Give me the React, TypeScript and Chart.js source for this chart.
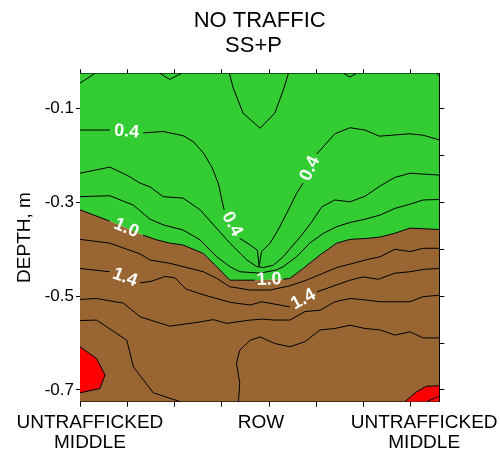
import { useEffect, useRef } from 'react';
import { Chart, registerables } from 'chart.js';

Chart.register(...registerables);

type P = [number, number];

const FAMILY = '"Liberation Sans", Arial, Helvetica, sans-serif';

// ---- text ----
const TITLE = ['NO TRAFFIC', 'SS+P  '];
const Y_TITLE = 'DEPTH, m';
const X_CATEGORY_LABELS: string[][] = [['UNTRAFFICKED', 'MIDDLE'], ['ROW'], ['UNTRAFFICKED', 'MIDDLE']];
const X_CATEGORY_POS = [0.21, 3.83, 7.28];

// ---- axes ----
const X_MIN = 0;
const X_MAX = 7.6;
const Y_MIN = -0.725;
const Y_MAX = -0.025;
const X_TICKS = [0, 1, 2, 3, 4, 5, 6, 7];
const Y_LABEL_TICKS = [-0.7, -0.5, -0.3, -0.1];
const Y_MINOR_TICKS = [-0.7, -0.6, -0.5, -0.4, -0.3, -0.2, -0.1];

// ---- contour lines: [x position, depth m] ----
const C02_A: P[] = [[0, -0.046], [0.32, -0.025]];
const C02_B: P[] = [[1.69, -0.025], [1.9, -0.038], [2.15, -0.025]];
const C02_C: P[] = [[3.16, -0.025], [3.24, -0.056], [3.45, -0.11], [3.81, -0.142], [4.12, -0.11], [4.3, -0.061], [4.41, -0.025]];
const C02_D: P[] = [[5.57, -0.025], [5.71, -0.033], [5.85, -0.025]];
const C02_E: P[] = [[7.54, -0.025], [7.6, -0.031]];

const C04: P[] = [
  [0, -0.146], [0.63, -0.146], [1.34, -0.152], [1.76, -0.149], [2.18, -0.158], [2.4, -0.171],
  [2.61, -0.195], [2.79, -0.225], [2.93, -0.261], [3.0, -0.295], [3.05, -0.316], [3.38, -0.377],
  [3.6, -0.391], [3.75, -0.402], [3.79, -0.436], [3.84, -0.405], [4.02, -0.387], [4.19, -0.359],
  [4.41, -0.316], [4.58, -0.281], [4.72, -0.259], [5.01, -0.197], [5.39, -0.154], [5.71, -0.141],
  [6.03, -0.146], [6.33, -0.159], [6.98, -0.154], [7.26, -0.157], [7.6, -0.167],
];

const C06: P[] = [
  [0, -0.238], [0.63, -0.225], [0.99, -0.242], [1.27, -0.259], [1.48, -0.267], [1.76, -0.288],
  [2.18, -0.291], [2.54, -0.316], [2.86, -0.352], [3.17, -0.387], [3.53, -0.423], [3.74, -0.437],
  [3.88, -0.439], [4.09, -0.434], [4.3, -0.416], [4.51, -0.391], [4.72, -0.366], [4.9, -0.342],
  [5.11, -0.31], [5.39, -0.295], [5.71, -0.299], [6.03, -0.287], [6.35, -0.265], [6.66, -0.247],
  [6.98, -0.238], [7.6, -0.242],
];

const C08: P[] = [
  [0, -0.288], [0.63, -0.286], [1.13, -0.306], [1.48, -0.336], [1.76, -0.348], [2.18, -0.359],
  [2.54, -0.38], [2.89, -0.416], [3.17, -0.437], [3.38, -0.448], [3.81, -0.451], [4.16, -0.444],
  [4.3, -0.437], [4.58, -0.416], [4.86, -0.387], [5.15, -0.366], [5.43, -0.352], [5.71, -0.343],
  [6.03, -0.336], [6.35, -0.327], [6.66, -0.313], [6.98, -0.304], [7.26, -0.295], [7.6, -0.294],
];

const C10: P[] = [
  [0, -0.316], [0.63, -0.34], [1.33, -0.37], [1.62, -0.38], [1.9, -0.387], [2.18, -0.391],
  [2.61, -0.409], [2.89, -0.437], [3.17, -0.466], [3.7, -0.466], [4.3, -0.464], [4.44, -0.462],
  [4.72, -0.441], [5.08, -0.412], [5.43, -0.387], [5.71, -0.379], [6.06, -0.377], [6.35, -0.374],
  [6.66, -0.366], [6.98, -0.355], [7.6, -0.358],
];

const C12: P[] = [
  [0, -0.379], [0.63, -0.387], [1.27, -0.41], [1.48, -0.423], [1.9, -0.43], [2.18, -0.437],
  [2.61, -0.448], [2.89, -0.462], [3.17, -0.48], [3.6, -0.487], [4.02, -0.487], [4.44, -0.478],
  [4.79, -0.466], [5.15, -0.451], [5.43, -0.439], [5.78, -0.43], [6.03, -0.423], [6.35, -0.416],
  [6.66, -0.4], [6.98, -0.405], [7.26, -0.398], [7.6, -0.398],
];

const C14: P[] = [
  [0, -0.441], [0.63, -0.448], [1.27, -0.472], [1.52, -0.468], [1.8, -0.458], [2.01, -0.461],
  [2.24, -0.485], [2.64, -0.498], [3.17, -0.513], [3.6, -0.519], [3.84, -0.512], [4.12, -0.517],
  [4.44, -0.523], [5.01, -0.491], [5.43, -0.476], [5.71, -0.466], [5.99, -0.459], [6.31, -0.464],
  [6.66, -0.451], [6.98, -0.448], [7.26, -0.443], [7.6, -0.441],
];

const C16: P[] = [
  [0, -0.507], [0.35, -0.505], [0.92, -0.515], [1.27, -0.544], [1.9, -0.564], [2.54, -0.555],
  [2.82, -0.55], [3.1, -0.558], [3.6, -0.551], [3.84, -0.549], [4.12, -0.551], [4.44, -0.551],
  [4.76, -0.533], [5.08, -0.53], [5.39, -0.512], [5.71, -0.505], [6.03, -0.508], [6.35, -0.512],
  [6.98, -0.512], [7.26, -0.501], [7.6, -0.498],
];

const C18_A: P[] = [[0, -0.552], [0.35, -0.551], [0.99, -0.594], [1.13, -0.651], [1.55, -0.706], [2.12, -0.725]];
const C18_B: P[] = [
  [3.35, -0.725], [3.38, -0.686], [3.31, -0.643], [3.38, -0.615], [3.6, -0.594], [3.81, -0.587],
  [4.12, -0.601], [4.44, -0.608], [4.76, -0.597], [5.08, -0.572], [5.39, -0.569], [5.71, -0.562],
  [6.03, -0.569], [6.35, -0.572], [6.66, -0.583], [6.98, -0.576], [7.26, -0.589], [7.6, -0.589],
];

const C20_L: P[] = [[0, -0.608], [0.35, -0.633], [0.53, -0.668], [0.42, -0.697], [0, -0.706]];
const C20_R: P[] = [[6.87, -0.725], [7.12, -0.704], [7.33, -0.692], [7.6, -0.691]];
const C22_R: P[] = [[7.33, -0.725], [7.6, -0.713]];

const LINES: Record<string, P[]> = {
  C02_A, C02_B, C02_C, C02_D, C02_E, C04, C06, C08, C10, C12, C14, C16, C18_A, C18_B, C20_L, C20_R, C22_R,
};

// contour labels sit in the gap after point index `gapAfter`
const CONTOUR_LABELS = [
  { line: 'C04', gapAfter: 1, text: '0.4' },
  { line: 'C04', gapAfter: 10, text: '0.4' },
  { line: 'C04', gapAfter: 20, text: '0.4' },
  { line: 'C10', gapAfter: 1, text: '1.0' },
  { line: 'C10', gapAfter: 9, text: '1.0' },
  { line: 'C14', gapAfter: 1, text: '1.4' },
  { line: 'C14', gapAfter: 12, text: '1.4' },
];

const GREEN = '#33CC33';
const BROWN = '#996633';
const RED = '#FF0000';

const toXY = (pts: P[]) => pts.map((p) => ({ x: p[0], y: p[1] }));

const withGaps = (name: string) => {
  const pts = LINES[name];
  const gaps = CONTOUR_LABELS.filter((l) => l.line === name).map((l) => l.gapAfter);
  const out: { x: number; y: number | null }[] = [];
  pts.forEach((p, i) => {
    out.push({ x: p[0], y: p[1] });
    if (gaps.includes(i) && i + 1 < pts.length) out.push({ x: (p[0] + pts[i + 1][0]) / 2, y: null });
  });
  return out;
};

const contourLabelPlugin = {
  id: 'contourLabels',
  afterDatasetsDraw(chart: any) {
    const { ctx } = chart;
    const xs = chart.scales.x;
    const ys = chart.scales.y;
    ctx.save();
    ctx.fillStyle = '#FFFFFF';
    ctx.font = `bold 18px ${FAMILY}`;
    ctx.textAlign = 'center';
    ctx.textBaseline = 'middle';
    for (const lab of CONTOUR_LABELS) {
      const pts = LINES[lab.line];
      const a = pts[lab.gapAfter];
      const b = pts[lab.gapAfter + 1];
      const ax = xs.getPixelForValue(a[0]);
      const ay = ys.getPixelForValue(a[1]);
      const bx = xs.getPixelForValue(b[0]);
      const by = ys.getPixelForValue(b[1]);
      let ang = Math.atan2(by - ay, bx - ax);
      if (ang > Math.PI / 2) ang -= Math.PI;
      if (ang < -Math.PI / 2) ang += Math.PI;
      ctx.save();
      ctx.translate((ax + bx) / 2, (ay + by) / 2);
      ctx.rotate(ang);
      ctx.fillText(lab.text, 0, 0);
      ctx.restore();
    }
    ctx.restore();
  },
};

export default function App() {
  const ref = useRef<HTMLCanvasElement | null>(null);

  useEffect(() => {
    document.body.style.margin = '0';
    if (!ref.current) return;
    Chart.defaults.font.family = FAMILY;

    const strokeSets = Object.keys(LINES).map((name) => ({
      label: name,
      data: withGaps(name),
      borderColor: '#000000',
      borderWidth: 1,
      pointRadius: 0,
      fill: false,
      spanGaps: false,
      order: 1,
    }));

    const hidden = { borderColor: 'rgba(0,0,0,0)', borderWidth: 0, pointRadius: 0 };
    const fillSets = [
      { label: 'fill 2.0 right', data: toXY(C20_R), fill: 'start', backgroundColor: RED, order: 5, ...hidden },
      { label: 'fill 2.0 left', data: toXY(C20_L), fill: 'shape', backgroundColor: RED, order: 5, ...hidden },
      { label: 'fill >1.0', data: toXY(C10), fill: 'start', backgroundColor: BROWN, order: 10, ...hidden },
      { label: 'fill <1.0', data: toXY(C10), fill: 'end', backgroundColor: GREEN, order: 10, ...hidden },
    ];

    const border = { display: true, color: '#000000', width: 1 };

    const chart = new Chart(ref.current, {
      type: 'line',
      data: { datasets: [...strokeSets, ...fillSets] as any },
      plugins: [contourLabelPlugin],
      options: {
        animation: false,
        responsive: false,
        events: [],
        layout: { padding: 0, autoPadding: false },
        plugins: {
          legend: { display: false },
          tooltip: { enabled: false },
          title: {
            display: true,
            text: TITLE,
            fullSize: false,
            color: '#000000',
            font: { size: 22, weight: 'normal', family: FAMILY, lineHeight: 1.17 },
            padding: { top: 7.6, bottom: 0 },
          },
        },
        scales: {
          x: {
            type: 'linear',
            position: 'bottom',
            min: X_MIN,
            max: X_MAX,
            afterBuildTicks: (s: any) => {
              s.ticks = [...X_TICKS, ...X_CATEGORY_POS].sort((a, b) => a - b).map((v) => ({ value: v }));
            },
            ticks: {
              autoSkip: false,
              maxRotation: 0,
              minRotation: 0,
              padding: 6,
              color: '#000000',
              font: { size: 19, family: FAMILY, lineHeight: 1.05 },
              callback: (v: any) => {
                const i = X_CATEGORY_POS.indexOf(Number(v));
                return i >= 0 ? X_CATEGORY_LABELS[i] : '';
              },
            },
            grid: {
              drawOnChartArea: false,
              drawTicks: true,
              tickLength: 5,
              tickColor: (c: any) =>
                c.tick && X_CATEGORY_POS.includes(c.tick.value) ? 'rgba(0,0,0,0)' : '#000000',
            },
            border,
            afterFit: (s: any) => {
              s.height = 48.3;
              s.paddingLeft = 0;
              s.paddingRight = 0;
            },
          },
          xTop: {
            type: 'linear',
            position: 'top',
            min: X_MIN,
            max: X_MAX,
            afterBuildTicks: (s: any) => {
              s.ticks = X_TICKS.map((v) => ({ value: v }));
            },
            ticks: { display: false },
            grid: { drawOnChartArea: false, drawTicks: true, tickLength: 4, tickColor: '#000000' },
            border,
            afterFit: (s: any) => {
              s.height = 73.3 - (7.6 + 2 * 22 * 1.17);
              s.paddingLeft = 0;
              s.paddingRight = 0;
            },
          },
          y: {
            type: 'linear',
            position: 'left',
            min: Y_MIN,
            max: Y_MAX,
            afterBuildTicks: (s: any) => {
              s.ticks = Y_LABEL_TICKS.map((v) => ({ value: v }));
            },
            ticks: {
              padding: 2,
              color: '#000000',
              font: { size: 17, family: FAMILY },
              callback: (v: any) => Number(v).toFixed(1),
            },
            grid: { drawOnChartArea: false, drawTicks: true, tickLength: 4, tickColor: '#000000' },
            border,
            title: {
              display: true,
              text: Y_TITLE,
              color: '#000000',
              font: { size: 19, family: FAMILY, lineHeight: 1.2 },
              padding: { top: 13.6, bottom: 0 },
            },
            afterFit: (s: any) => {
              s.width = 80;
              s.paddingTop = 0;
              s.paddingBottom = 0;
            },
          },
          yRight: {
            type: 'linear',
            position: 'right',
            min: Y_MIN,
            max: Y_MAX,
            afterBuildTicks: (s: any) => {
              s.ticks = Y_MINOR_TICKS.map((v) => ({ value: v }));
            },
            ticks: { display: false },
            grid: { drawOnChartArea: false, drawTicks: true, tickLength: 5, tickColor: '#000000' },
            border,
            afterFit: (s: any) => {
              s.width = 500 - 439.3;
              s.paddingTop = 0;
              s.paddingBottom = 0;
            },
          },
        },
      } as any,
    });

    return () => chart.destroy();
  }, []);

  return (
    <div style={{ width: 500, height: 450 }}>
      <canvas ref={ref} width={500} height={450} style={{ display: 'block' }} />
    </div>
  );
}
